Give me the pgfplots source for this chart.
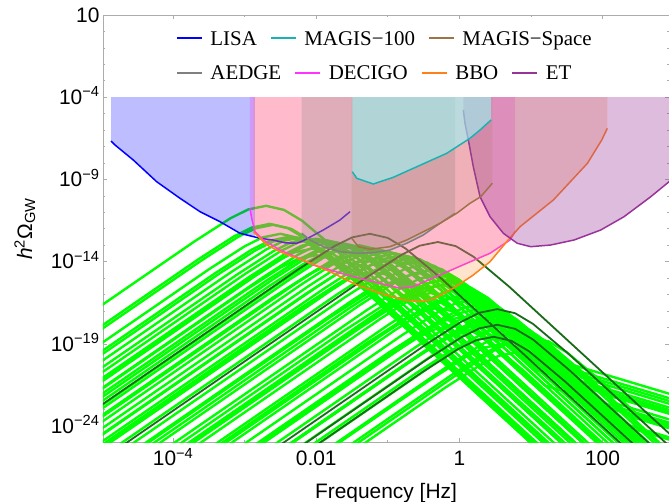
\documentclass[border=0pt]{standalone}
\usepackage{pgfplots}
\pgfplotsset{compat=1.18}
\usepackage{fontspec}
\setmainfont{Liberation Sans}
\newfontfamily\legfont{Liberation Serif}
\definecolor{lisa}{rgb}{0,0,1}
\definecolor{magisA}{rgb}{0.1,0.7,0.7}
\definecolor{magisAfill}{rgb}{0.6,0.97,0.97}
\definecolor{magisS}{rgb}{0.62,0.45,0.28}
\definecolor{aedge}{rgb}{0.5,0.5,0.5}
\definecolor{decigo}{rgb}{1,0.2,1}
\definecolor{bbo}{rgb}{1,0.5,0.1}
\definecolor{et}{rgb}{0.6,0.2,0.6}
\definecolor{lgreen}{rgb}{0,1,0}
\definecolor{dgreen}{rgb}{0.1,0.42,0.1}
\newcommand{\legline}[1]{\textcolor{#1}{\rule[0.3em]{25bp}{1.8bp}}}
\begin{document}
\begin{tikzpicture}
\path[use as bounding box] (-103bp,-59.3bp) rectangle (566bp,442.7bp);
\begin{axis}[
 scale only axis, width=566bp, height=427.7bp,
 xmin=-4.98, xmax=2.93, ymin=-25, ymax=1,
 xtick={-4,-2,0,2}, xticklabels={10\textsuperscript{−4},0.01,1,100},
 minor xtick={-3,-1,1},
 ytick={-24,-19,-14,-9,-4,1},
 yticklabels={10\textsuperscript{−24},10\textsuperscript{−19},10\textsuperscript{−14},10\textsuperscript{−9},10\textsuperscript{−4},10},
 minor ytick={-25,-23,-22,-21,-20,-18,-17,-16,-15,-13,-12,-11,-10,-8,-7,-6,-5,-3,-2,-1,0},
 tick align=inside,
 major tick length=4.5bp, minor tick length=2.5bp,
 axis line style={draw=gray!65, line width=0.8pt},
 tick style={color=gray!65, line width=0.7pt},
 tick label style={font=\fontsize{21}{25}\selectfont},
 xticklabel style={anchor=base, yshift=-23.3bp},
 yticklabel style={anchor=base east, yshift=-7.2bp},
 label style={font=\fontsize{21}{25}\selectfont},
 xlabel={Frequency [Hz]},
 ylabel={\textit{h}\textsuperscript{2}Ω\textsubscript{GW}},
 xlabel style={at={(axis description cs:0.5,-0.1293)}, anchor=base},
 ylabel style={at={(axis description cs:-0.138,0.5)}, anchor=center},
 G/.style={lgreen, line width=2.4pt, line join=round, forget plot},
 D/.style={dgreen, line width=1.8pt, line join=round, forget plot},
]
% ---- bright green spectra ----
\addplot[G] coordinates {(-5,-16.65) (-3.7,-12.76) (-3.2,-11.36) (-2.95,-10.82) (-2.7,-10.6) (-2.45,-10.85) (-2.2,-11.5) (-1.7,-13.33) (3,-32.11)};
\addplot[G] coordinates {(-5,-17.9) (-3.65,-13.86) (-3.15,-12.46) (-2.9,-11.92) (-2.65,-11.7) (-2.4,-11.95) (-2.15,-12.6) (-1.65,-14.43) (3,-33.01)};
\addplot[G] coordinates {(-5,-18.1) (-3.6,-13.91) (-3.1,-12.51) (-2.85,-11.97) (-2.6,-11.75) (-2.35,-12.0) (-2.1,-12.65) (-1.6,-14.48) (3,-32.86)};
\addplot[G] coordinates {(-5,-18.95) (-3.5,-14.46) (-3.0,-13.06) (-2.75,-12.52) (-2.5,-12.3) (-2.25,-12.55) (-2.0,-13.2) (-1.5,-15.03) (3,-33.01)};
\addplot[G] coordinates {(-5,-19.45) (-3.4,-14.66) (-2.9,-13.26) (-2.65,-12.72) (-2.4,-12.5) (-2.15,-12.75) (-1.9,-13.4) (-1.4,-15.23) (3,-32.81)};
\addplot[G] coordinates {(-5,-19.65) (-3.35,-14.71) (-2.85,-13.31) (-2.6,-12.77) (-2.35,-12.55) (-2.1,-12.8) (-1.85,-13.45) (-1.35,-15.28) (3,-32.66)};
\addplot[G] coordinates {(-5,-20.05) (-3.2,-14.66) (-2.7,-13.26) (-2.45,-12.72) (-2.2,-12.5) (-1.95,-12.75) (-1.7,-13.4) (-1.2,-15.23) (3,-32.01)};
\addplot[G] coordinates {(-5,-20.45) (-3.1,-14.76) (-2.6,-13.36) (-2.35,-12.82) (-2.1,-12.6) (-1.85,-12.85) (-1.6,-13.5) (-1.1,-15.33) (3,-31.71)};
\addplot[G] coordinates {(-5,-21.2) (-3.05,-15.36) (-2.55,-13.96) (-2.3,-13.42) (-2.05,-13.2) (-1.8,-13.45) (-1.55,-14.1) (-1.05,-15.93) (3,-32.11)};
\addplot[G] coordinates {(-5,-20.75) (-3,-14.76) (-2.5,-13.36) (-2.25,-12.82) (-2,-12.6) (-1.75,-12.85) (-1.5,-13.5) (-1,-15.33) (3,-31.31)};
\addplot[G] coordinates {(-5,-21.1) (-2.95,-14.96) (-2.45,-13.56) (-2.2,-13.02) (-1.95,-12.8) (-1.7,-13.05) (-1.45,-13.7) (-0.95,-15.53) (3,-31.31)};
\addplot[G] coordinates {(-5,-21.3) (-2.85,-14.86) (-2.35,-13.46) (-2.1,-12.92) (-1.85,-12.7) (-1.6,-12.95) (-1.35,-13.6) (-0.85,-15.43) (3,-30.81)};
\addplot[G] coordinates {(-5,-21.7) (-2.75,-14.96) (-2.25,-13.56) (-2.0,-13.02) (-1.75,-12.8) (-1.5,-13.05) (-1.25,-13.7) (-0.75,-15.53) (3,-30.51)};
\addplot[G] coordinates {(-5,-21.75) (-3,-15.76) (-2.5,-14.36) (-2.25,-13.82) (-2,-13.6) (-1.75,-13.85) (-1.5,-14.5) (-1,-16.33) (3,-32.31)};
\addplot[G] coordinates {(-5,-22.05) (-2.7,-15.16) (-2.2,-13.76) (-1.95,-13.22) (-1.7,-13.0) (-1.45,-13.25) (-1.2,-13.9) (-0.7,-15.73) (3,-30.51)};
\addplot[G] coordinates {(-5,-22.5) (-2.65,-15.46) (-2.15,-14.06) (-1.9,-13.52) (-1.65,-13.3) (-1.4,-13.55) (-1.15,-14.2) (-0.65,-16.03) (3,-30.61)};
\addplot[G] coordinates {(-5,-22.25) (-2.6,-15.06) (-2.1,-13.66) (-1.85,-13.12) (-1.6,-12.9) (-1.35,-13.15) (-1.1,-13.8) (-0.6,-15.63) (3,-30.01)};
\addplot[G] coordinates {(-5,-22.75) (-2.5,-15.26) (-2.0,-13.86) (-1.75,-13.32) (-1.5,-13.1) (-1.25,-13.35) (-1.0,-14.0) (-0.5,-15.83) (3,-29.81)};
\addplot[G] coordinates {(-5,-23.35) (-2.6,-16.16) (-2.1,-14.76) (-1.85,-14.22) (-1.6,-14.0) (-1.35,-14.25) (-1.1,-14.9) (-0.6,-16.73) (3,-31.11)};
\addplot[G] coordinates {(-5,-23.4) (-2.45,-15.76) (-1.95,-14.36) (-1.7,-13.82) (-1.45,-13.6) (-1.2,-13.85) (-0.95,-14.5) (-0.45,-16.33) (3,-30.11)};
\addplot[G] coordinates {(-5,-22.95) (-2.4,-15.16) (-1.9,-13.76) (-1.65,-13.22) (-1.4,-13.0) (-1.15,-13.25) (-0.9,-13.9) (-0.4,-15.73) (3,-29.31)};
\addplot[G] coordinates {(-5,-23.45) (-2.3,-15.36) (-1.8,-13.96) (-1.55,-13.42) (-1.3,-13.2) (-1.05,-13.45) (-0.8,-14.1) (-0.3,-15.93) (3,-29.11)};
\addplot[G] coordinates {(-5,-23.75) (-2.2,-15.36) (-1.7,-13.96) (-1.45,-13.42) (-1.2,-13.2) (-0.95,-13.45) (-0.7,-14.1) (-0.2,-15.93) (3,-28.71)};
\addplot[G] coordinates {(-5,-24.5) (-2.15,-15.96) (-1.65,-14.56) (-1.4,-14.02) (-1.15,-13.8) (-0.9,-14.05) (-0.65,-14.7) (-0.15,-16.53) (3,-29.11)};
\addplot[G] coordinates {(-5,-24.15) (-2.1,-15.46) (-1.6,-14.06) (-1.35,-13.52) (-1.1,-13.3) (-0.85,-13.55) (-0.6,-14.2) (-0.1,-16.03) (3,-28.41)};
\addplot[G] coordinates {(-5,-24.55) (-2,-15.56) (-1.5,-14.16) (-1.25,-13.62) (-1,-13.4) (-0.75,-13.65) (-0.5,-14.3) (0,-16.13) (3,-28.11)};
\addplot[G] coordinates {(-5,-25.15) (-2.2,-16.76) (-1.7,-15.36) (-1.45,-14.82) (-1.2,-14.6) (-0.95,-14.85) (-0.7,-15.5) (-0.2,-17.33) (3,-30.11)};
\addplot[G] coordinates {(-5,-25.2) (-1.95,-16.06) (-1.45,-14.66) (-1.2,-14.12) (-0.95,-13.9) (-0.7,-14.15) (-0.45,-14.8) (0.05,-16.63) (3,-28.41)};
\addplot[G] coordinates {(-5,-24.95) (-1.9,-15.66) (-1.4,-14.26) (-1.15,-13.72) (-0.9,-13.5) (-0.65,-13.75) (-0.4,-14.4) (0.1,-16.23) (3,-27.81)};
\addplot[G] coordinates {(-5,-25.35) (-1.8,-15.76) (-1.3,-14.36) (-1.05,-13.82) (-0.8,-13.6) (-0.55,-13.85) (-0.3,-14.5) (0.2,-16.33) (3,-27.51)};
\addplot[G] coordinates {(-5,-25.85) (-1.7,-15.96) (-1.2,-14.56) (-0.95,-14.02) (-0.7,-13.8) (-0.45,-14.05) (-0.2,-14.7) (0.3,-16.53) (3,-27.31)};
\addplot[G] coordinates {(-5,-26.35) (-1.6,-16.16) (-1.1,-14.76) (-0.85,-14.22) (-0.6,-14.0) (-0.35,-14.25) (-0.1,-14.9) (0.4,-16.73) (3,-27.11)};
\addplot[G] coordinates {(-5,-26.95) (-1.8,-17.36) (-1.3,-15.96) (-1.05,-15.42) (-0.8,-15.2) (-0.55,-15.45) (-0.3,-16.1) (0.2,-17.93) (3,-29.11)};
\addplot[G] coordinates {(-5,-27.2) (-1.55,-16.86) (-1.05,-15.46) (-0.8,-14.92) (-0.55,-14.7) (-0.3,-14.95) (-0.05,-15.6) (0.45,-17.43) (3,-27.61)};
\addplot[G] coordinates {(-5,-26.85) (-1.5,-16.36) (-1,-14.96) (-0.75,-14.42) (-0.5,-14.2) (-0.25,-14.45) (0,-15.1) (0.5,-16.93) (3,-26.91)};
\addplot[G] coordinates {(-5,-27.45) (-1.4,-16.66) (-0.9,-15.26) (-0.65,-14.72) (-0.4,-14.5) (-0.15,-14.75) (0.1,-15.4) (0.6,-17.23) (3,-26.81)};
\addplot[G] coordinates {(-5,-28.05) (-1.3,-16.96) (-0.8,-15.56) (-0.55,-15.02) (-0.3,-14.8) (-0.05,-15.05) (0.2,-15.7) (0.7,-17.53) (3,-26.71)};
\addplot[G] coordinates {(-5,-28.35) (-1.6,-18.16) (-1.1,-16.76) (-0.85,-16.22) (-0.6,-16.0) (-0.35,-16.25) (-0.1,-16.9) (0.4,-18.73) (3,-29.11)};
\addplot[G] coordinates {(-5,-28.8) (-1.25,-17.56) (-0.75,-16.16) (-0.5,-15.62) (-0.25,-15.4) (0,-15.65) (0.25,-16.3) (0.75,-18.13) (3,-27.11)};
\addplot[G] coordinates {(-5,-28.65) (-1.2,-17.26) (-0.7,-15.86) (-0.45,-15.32) (-0.2,-15.1) (0.05,-15.35) (0.3,-16.0) (0.8,-17.83) (3,-26.61)};
\addplot[G] coordinates {(-5,-28.85) (-1.4,-18.06) (-0.9,-16.66) (-0.65,-16.12) (-0.4,-15.9) (-0.15,-16.15) (0.1,-16.8) (0.6,-18.63) (1.1,-20.63) (3,-23.1)};
\addplot[G] coordinates {(-5,-29.15) (-1.1,-17.46) (-0.6,-16.06) (-0.35,-15.52) (-0.1,-15.3) (0.15,-15.55) (0.4,-16.2) (0.9,-18.03) (1.4,-20.03) (3,-22.11)};
\addplot[G] coordinates {(-5,-29.85) (-1,-17.86) (-0.5,-16.46) (-0.25,-15.92) (0,-15.7) (0.25,-15.95) (0.5,-16.6) (1,-18.43) (1.5,-20.43) (3,-22.38)};
\addplot[G] coordinates {(-5,-30.05) (-1.3,-18.96) (-0.8,-17.56) (-0.55,-17.02) (-0.3,-16.8) (-0.05,-17.05) (0.2,-17.7) (0.7,-19.53) (1.2,-21.53) (3,-23.87)};
\addplot[G] coordinates {(-5,-30.45) (-0.9,-18.16) (-0.4,-16.76) (-0.15,-16.22) (0.1,-16.0) (0.35,-16.25) (0.6,-16.9) (1.1,-18.73) (1.6,-20.73) (3,-22.55)};
\addplot[G] coordinates {(-5,-30.2) (-1.05,-18.36) (-0.55,-16.96) (-0.3,-16.42) (-0.05,-16.2) (0.2,-16.45) (0.45,-17.1) (0.95,-18.93) (1.45,-20.93) (3,-22.95)};
\addplot[G] coordinates {(-5,-31.05) (-0.8,-18.46) (-0.3,-17.06) (-0.05,-16.52) (0.2,-16.3) (0.45,-16.55) (0.7,-17.2) (1.2,-19.03) (1.7,-21.03) (3,-22.72)};
\addplot[G] coordinates {(-5,-31.55) (-1,-19.56) (-0.5,-18.16) (-0.25,-17.62) (0,-17.4) (0.25,-17.65) (0.5,-18.3) (1,-20.13) (1.5,-22.13) (3,-24.08)};
\addplot[G] coordinates {(-5,-31.75) (-1.1,-20.06) (-0.6,-18.66) (-0.35,-18.12) (-0.1,-17.9) (0.15,-18.15) (0.4,-18.8) (0.9,-20.63) (3,-29.01)};
\addplot[G] coordinates {(-5,-31.8) (-0.75,-19.06) (-0.25,-17.66) (0,-17.12) (0.25,-16.9) (0.5,-17.15) (0.75,-17.8) (1.25,-19.63) (1.75,-21.63) (3,-23.26)};
\addplot[G] coordinates {(-5,-31.65) (-0.7,-18.76) (-0.2,-17.36) (0.05,-16.82) (0.3,-16.6) (0.55,-16.85) (0.8,-17.5) (1.3,-19.33) (3,-26.11)};
\addplot[G] coordinates {(-5,-32.35) (-0.6,-19.16) (-0.1,-17.76) (0.15,-17.22) (0.4,-17.0) (0.65,-17.25) (0.9,-17.9) (1.4,-19.73) (1.9,-21.73) (3,-23.16)};
\addplot[G] coordinates {(-5,-32.95) (-0.8,-20.36) (-0.3,-18.96) (-0.05,-18.42) (0.2,-18.2) (0.45,-18.45) (0.7,-19.1) (1.2,-20.93) (3,-28.11)};
\addplot[G] coordinates {(-5,-33.0) (-0.55,-19.66) (-0.05,-18.26) (0.2,-17.72) (0.45,-17.5) (0.7,-17.75) (0.95,-18.4) (1.45,-20.23) (3,-26.41)};
\addplot[G] coordinates {(-5,-32.95) (-0.5,-19.46) (0,-18.06) (0.25,-17.52) (0.5,-17.3) (0.75,-17.55) (1,-18.2) (1.5,-20.03) (2,-22.03) (3,-23.33)};
\addplot[G] coordinates {(-5,-33.0) (-0.65,-19.96) (-0.15,-18.56) (0.1,-18.02) (0.35,-17.8) (0.6,-18.05) (0.85,-18.7) (1.35,-20.53) (1.85,-22.53) (3,-24.03)};
\addplot[G] coordinates {(-5,-33.55) (-0.4,-19.76) (0.1,-18.36) (0.35,-17.82) (0.6,-17.6) (0.85,-17.85) (1.1,-18.5) (1.6,-20.33) (3,-25.91)};
\addplot[G] coordinates {(-5,-33.95) (-0.6,-20.76) (-0.1,-19.36) (0.15,-18.82) (0.4,-18.6) (0.65,-18.85) (0.9,-19.5) (1.4,-21.33) (1.9,-23.33) (3,-24.76)};
\addplot[G] coordinates {(-5,-34.15) (-0.3,-20.06) (0.2,-18.66) (0.45,-18.12) (0.7,-17.9) (0.95,-18.15) (1.2,-18.8) (1.7,-20.63) (2.2,-22.63) (3,-23.67)};
\addplot[G] coordinates {(-5,-34.85) (-0.2,-20.46) (0.3,-19.06) (0.55,-18.52) (0.8,-18.3) (1.05,-18.55) (1.3,-19.2) (1.8,-21.03) (3,-25.81)};
\addplot[G] coordinates {(-5,-34.95) (-0.4,-21.16) (0.1,-19.76) (0.35,-19.22) (0.6,-19.0) (0.85,-19.25) (1.1,-19.9) (1.6,-21.73) (2.1,-23.73) (3,-24.9)};
\addplot[G] coordinates {(-5,-35.55) (-0.1,-20.86) (0.4,-19.46) (0.65,-18.92) (0.9,-18.7) (1.15,-18.95) (1.4,-19.6) (1.9,-21.43) (2.4,-23.43) (3,-24.21)};
\addplot[G] coordinates {(-5,-35.75) (0,-20.76) (0.5,-19.36) (0.75,-18.82) (1.0,-18.6) (1.25,-18.85) (1.5,-19.5) (2.0,-21.33) (2.5,-23.33) (3,-23.98)};
\addplot[G] coordinates {(-5,-36.05) (-0.2,-21.66) (0.3,-20.26) (0.55,-19.72) (0.8,-19.5) (1.05,-19.75) (1.3,-20.4) (1.8,-22.23) (3,-27.01)};
% ---- dark green spectra ----
\addplot[D] coordinates {(-5,-22.7) (-2.25,-14.46) (-1.75,-13.06) (-1.5,-12.52) (-1.25,-12.3) (-1.0,-12.55) (-0.75,-13.2) (-0.25,-15.03) (3,-28.01)};
\addplot[D] coordinates {(-5,-26.05) (-1.3,-14.96) (-0.8,-13.56) (-0.55,-13.02) (-0.3,-12.8) (-0.05,-13.05) (0.2,-13.7) (0.7,-15.53) (3,-24.71)};
\addplot[D] coordinates {(-5,-32.62) (-0.47,-19.04) (0.03,-17.64) (0.28,-17.1) (0.53,-16.88) (0.78,-17.13) (1.03,-17.78) (1.53,-19.61) (3,-25.47)};
\addplot[D] coordinates {(-5,-33.57) (-0.47,-19.99) (0.03,-18.59) (0.28,-18.05) (0.53,-17.83) (0.78,-18.08) (1.03,-18.73) (1.53,-20.56) (3,-26.42)};
\addplot[D] coordinates {(-5,-34.15) (-0.52,-20.72) (-0.02,-19.32) (0.23,-18.78) (0.48,-18.56) (0.73,-18.81) (0.98,-19.46) (1.48,-21.29) (3,-27.35)};
% ---- LISA ----
\addplot[draw=none, fill=lisa, fill opacity=0.26, forget plot] coordinates {(-4.868,-4) (-4.868,-6.66) (-4.812,-6.903) (-4.557,-7.815) (-4.230,-9.134) (-3.904,-10.143) (-3.624,-10.957) (-3.345,-11.565) (-3.065,-12.271) (-2.856,-12.5) (-2.856,-4)};
\addplot[lisa, line width=1.5pt, forget plot] coordinates {(-4.868,-6.66) (-4.812,-6.903) (-4.557,-7.815) (-4.230,-9.134) (-3.904,-10.143) (-3.624,-10.957) (-3.345,-11.565) (-3.065,-12.271) (-2.786,-12.574) (-2.604,-12.678) (-2.436,-12.85) (-2.273,-12.878) (-2.18,-12.72) (-2.087,-12.5) (-1.901,-12.07) (-1.668,-11.462) (-1.528,-10.957)};
% ---- DECIGO ----
\addplot[draw=none, fill=decigo, fill opacity=0.25, forget plot] coordinates {(-2.926,-4) (-2.926,-10.751) (-2.902,-11.359) (-2.856,-12.173) (-2.740,-12.678) (-2.506,-13.286) (-2.041,-14.198) (-1.574,-14.805) (-1.109,-15.310) (-0.829,-15.614) (-0.643,-15.517) (-0.270,-14.805) (0.103,-14.094) (0.429,-13.486) (0.708,-12.678) (0.778,-12.173) (0.778,-4)};
\addplot[decigo, line width=1.5pt, forget plot] coordinates {(-2.926,-10.751) (-2.902,-11.359) (-2.856,-12.173) (-2.740,-12.678) (-2.506,-13.286) (-2.041,-14.198) (-1.574,-14.805) (-1.109,-15.310) (-0.829,-15.614) (-0.643,-15.517) (-0.270,-14.805) (0.103,-14.094) (0.429,-13.486) (0.708,-12.678) (0.778,-12.173)};
% ---- BBO ----
\addplot[draw=none, fill=bbo, fill opacity=0.22, forget plot] coordinates {(-2.879,-4) (-2.879,-12.173) (-2.786,-12.574) (-2.692,-12.982) (-2.460,-13.486) (-2.133,-13.997) (-1.807,-14.605) (-1.434,-15.413) (-1.109,-15.918) (-0.783,-16.325) (-0.550,-16.429) (-0.364,-16.283) (-0.084,-15.614) (0.195,-14.805) (0.429,-13.997) (0.662,-12.781) (0.848,-11.869) (1.314,-10.246) (1.79,-8.015) (1.99,-6.6) (2.068,-5.888) (2.068,-4)};
\addplot[bbo, line width=1.5pt, forget plot] coordinates {(-2.879,-12.173) (-2.786,-12.574) (-2.692,-12.982) (-2.460,-13.486) (-2.133,-13.997) (-1.807,-14.605) (-1.434,-15.413) (-1.109,-15.918) (-0.783,-16.325) (-0.550,-16.429) (-0.364,-16.283) (-0.084,-15.614) (0.195,-14.805) (0.429,-13.997) (0.662,-12.781) (0.848,-11.869) (1.314,-10.246) (1.79,-8.015) (1.99,-6.6) (2.068,-5.888)};
% ---- ET ----
\addplot[draw=none, fill=et, fill opacity=0.33, forget plot] coordinates {(0.056,-4) (0.056,-4.775) (0.079,-5.584) (0.126,-6.599) (0.195,-8.222) (0.289,-10.046) (0.429,-11.261) (0.615,-12.271) (0.810,-12.878) (0.998,-13.085) (1.277,-12.982) (1.603,-12.678) (1.976,-12.070) (2.302,-11.261) (2.675,-10.046) (2.931,-9.134) (2.96,-9.0) (2.96,-4)};
\addplot[et, line width=1.5pt, forget plot] coordinates {(0.056,-4.775) (0.079,-5.584) (0.126,-6.599) (0.195,-8.222) (0.289,-10.046) (0.429,-11.261) (0.615,-12.271) (0.810,-12.878) (0.998,-13.085) (1.277,-12.982) (1.603,-12.678) (1.976,-12.070) (2.302,-11.261) (2.675,-10.046) (2.931,-9.134) (2.96,-9.0)};
% ---- AEDGE ----
\addplot[draw=none, fill=aedge, fill opacity=0.25, forget plot] coordinates {(-2.203,-4) (-2.203,-12.271) (-2.087,-12.678) (-1.901,-13.085) (-1.668,-13.389) (-1.434,-13.486) (-1.202,-13.450) (-0.969,-13.286) (-0.735,-12.878) (-0.503,-12.374) (-0.270,-11.663) (-0.060,-11.055) (-0.060,-4)};
\addplot[aedge, line width=1.5pt, forget plot] coordinates {(-2.203,-12.271) (-2.087,-12.678) (-1.901,-13.085) (-1.668,-13.389) (-1.434,-13.486) (-1.202,-13.450) (-0.969,-13.286) (-0.735,-12.878) (-0.503,-12.374) (-0.270,-11.663) (-0.060,-11.055)};
% ---- MAGIS-Space ----
\addplot[draw=none, fill=magisS, fill opacity=0.15, forget plot] coordinates {(-1.504,-4) (-1.504,-12.574) (-1.412,-13.085) (-1.248,-13.243) (-0.969,-13.085) (-0.735,-12.678) (-0.503,-12.173) (-0.270,-11.663) (-0.037,-11.055) (0.149,-10.447) (0.299,-10.046) (0.461,-9.231) (0.461,-4)};
\addplot[magisS, line width=1.5pt, forget plot] coordinates {(-1.504,-12.574) (-1.412,-13.085) (-1.248,-13.243) (-0.969,-13.085) (-0.735,-12.678) (-0.503,-12.173) (-0.270,-11.663) (-0.037,-11.055) (0.149,-10.447) (0.299,-10.046) (0.461,-9.231)};
% ---- MAGIS-100 ----
\addplot[draw=none, fill=magisAfill, fill opacity=0.6, forget plot] coordinates {(-1.496,-4) (-1.496,-8.526) (-1.434,-8.927) (-1.202,-9.274) (-0.923,-8.866) (-0.643,-8.319) (-0.176,-7.407) (0.149,-6.495) (0.289,-5.991) (0.443,-5.383) (0.443,-4)};
\addplot[magisA, line width=1.5pt, forget plot] coordinates {(-1.496,-8.526) (-1.434,-8.927) (-1.202,-9.274) (-0.923,-8.866) (-0.643,-8.319) (-0.176,-7.407) (0.149,-6.495) (0.289,-5.991) (0.443,-5.383)};
% ---- legend ----
\node[anchor=base west, inner sep=0pt, font=\legfont\fontsize{21}{24}\selectfont] at (axis cs:-3.95,-0.842)
 {\legline{lisa}\hspace{8.5bp}LISA\hspace{14bp}\legline{magisA}\hspace{8.5bp}MAGIS−100\hspace{14bp}\legline{magisS}\hspace{8.5bp}MAGIS−Space};
\node[anchor=base west, inner sep=0pt, font=\legfont\fontsize{21}{24}\selectfont] at (axis cs:-3.95,-2.951)
 {\legline{aedge}\hspace{8.5bp}AEDGE\hspace{14bp}\legline{decigo}\hspace{8.5bp}DECIGO\hspace{14bp}\legline{bbo}\hspace{8.5bp}BBO\hspace{14bp}\legline{et}\hspace{8.5bp}ET};
\end{axis}
\end{tikzpicture}
\end{document}
